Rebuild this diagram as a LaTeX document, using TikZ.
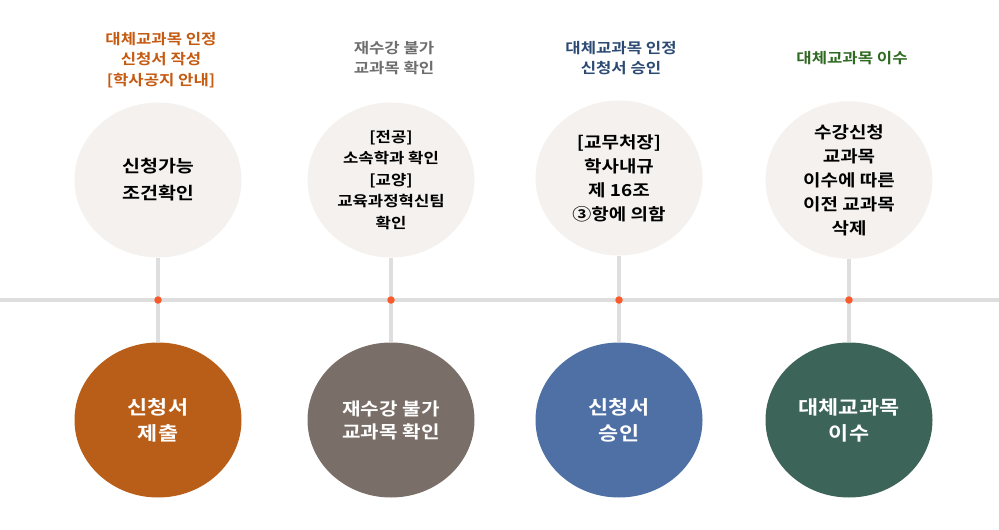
\documentclass[tikz,border=0pt]{standalone}
\usepackage{fontspec}
\usetikzlibrary{shapes.geometric}
\setmainfont{Noto Sans CJK KR}[BoldFont={* Bold}]
\newfontfamily\kr{Noto Sans CJK KR}[BoldFont={* Bold},FakeStretch=1.15]
\definecolor{linegray}{HTML}{DEDEDE}
\definecolor{dotred}{HTML}{F95A2C}
\definecolor{topfill}{HTML}{F4F1EE}
\definecolor{cA}{HTML}{B95E18}
\definecolor{cB}{HTML}{7A6F68}
\definecolor{cC}{HTML}{4F70A5}
\definecolor{cD}{HTML}{3D6458}
\definecolor{tA}{HTML}{C55A11}
\definecolor{tB}{HTML}{6E6E6E}
\definecolor{tC}{HTML}{2C4A72}
\definecolor{tD}{HTML}{2F6A22}
\begin{document}
\begin{tikzpicture}[x=1pt,y=-1pt,
  topc/.style={ellipse,fill=topfill,minimum width=167pt,minimum height=155pt,inner sep=0pt,align=center,font=\kr\bfseries,text=black},
  botc/.style={ellipse,minimum width=167pt,minimum height=155pt,inner sep=0pt,align=center,font=\kr\bfseries,text=white},
  toplab/.style={align=center,font=\kr\bfseries\fontsize{14.5}{20.5}\selectfont},
  vline/.style={draw=linegray,line width=4pt},
  dotn/.style={circle,fill=dotred,minimum size=7.5pt,inner sep=0pt}]
\useasboundingbox (0,0) rectangle (999,530);
% main line
\coordinate (L) at (0,300);
\coordinate (R) at (999,300);
\draw[draw=linegray,line width=4pt] (L) -- (R);
% top circles
\node[topc,font=\kr\bfseries\fontsize{17}{27}\selectfont] (t1) at (158,180) {신청가능\\조건확인};
\node[topc,font=\kr\bfseries\fontsize{14.5}{21.5}\selectfont] (t2) at (391,180) {[전공]\\소속학과 확인\\{}[교양]\\교육과정혁신팀\\확인};
\node[topc,font=\kr\bfseries\fontsize{16.5}{24}\selectfont] (t3) at (619,178) {[교무처장]\\학사내규\\제 16조\\③항에 의함};
\node[topc,font=\kr\bfseries\fontsize{16.5}{24}\selectfont] (t4) at (849,180) {수강신청\\교과목\\이수에 따른\\이전 교과목\\삭제};
% bottom circles
\node[botc,fill=cA,font=\kr\bfseries\fontsize{19}{26}\selectfont] (b1) at (158,420) {신청서\\제출};
\node[botc,fill=cB,font=\kr\bfseries\fontsize{17.5}{23}\selectfont] (b2) at (391,420) {재수강 불가\\교과목 확인};
\node[botc,fill=cC,font=\kr\bfseries\fontsize{19}{26}\selectfont] (b3) at (619,420) {신청서\\승인};
\node[botc,fill=cD,font=\kr\bfseries\fontsize{19}{26}\selectfont] (b4) at (849,420) {대체교과목\\이수};
% connectors
\foreach \i in {1,2,3,4}{
  \draw[vline] (t\i.south) -- (b\i.north);
}
\node[dotn] (d1) at (158,300) {};
\node[dotn] (d2) at (391,300) {};
\node[dotn] (d3) at (619,300) {};
\node[dotn] (d4) at (849,300) {};
% top labels
\node[toplab,text=tA] (l1) at (161,60) {대체교과목 인정\\신청서 작성\\{}[학사공지 안내]};
\node[toplab,text=tB] (l2) at (394,58) {재수강 불가\\교과목 확인};
\node[toplab,text=tC] (l3) at (621,58) {대체교과목 인정\\신청서 승인};
\node[toplab,text=tD] (l4) at (852,58) {대체교과목 이수};
\end{tikzpicture}
\end{document}
